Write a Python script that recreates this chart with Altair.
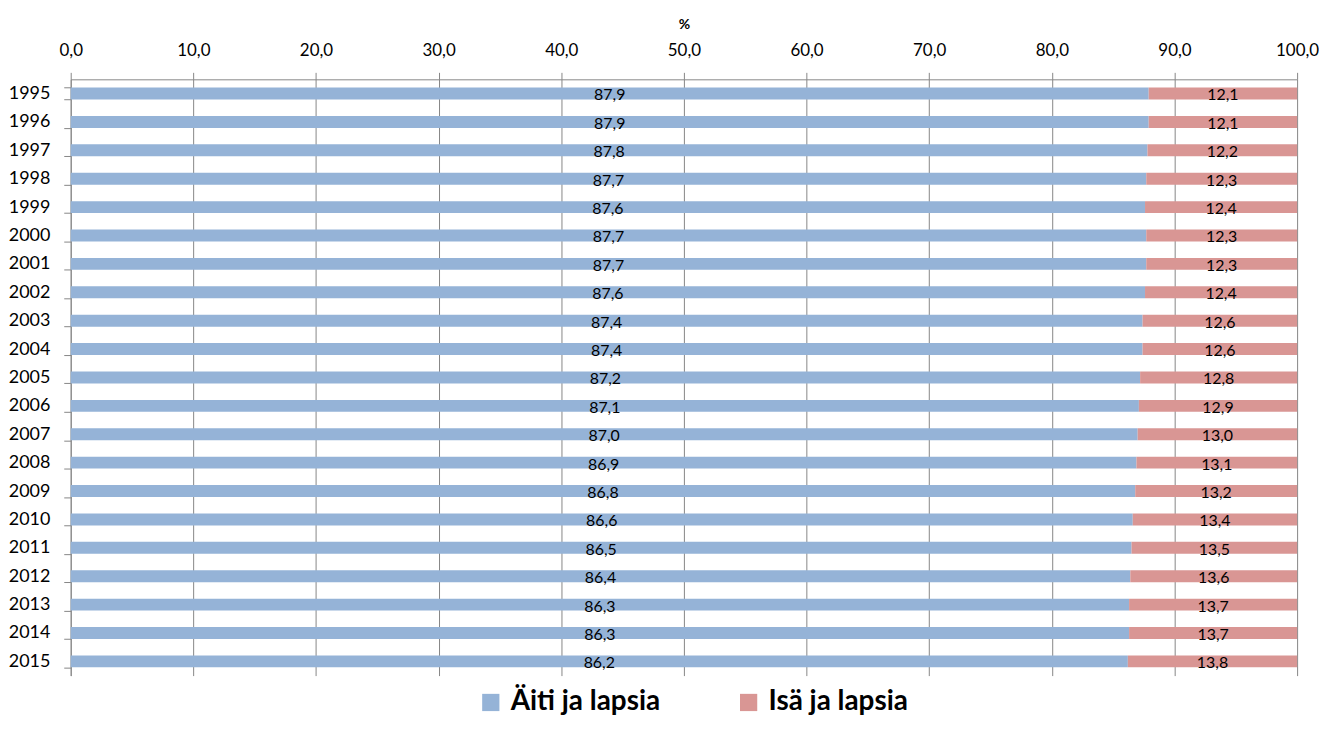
import altair as alt
import pandas as pd

years = [str(y) for y in range(1995, 2016)]
aiti = [87.9, 87.9, 87.8, 87.7, 87.6, 87.7, 87.7, 87.6, 87.4, 87.4, 87.2,
        87.1, 87.0, 86.9, 86.8, 86.6, 86.5, 86.4, 86.3, 86.3, 86.2]
isa = [12.1, 12.1, 12.2, 12.3, 12.4, 12.3, 12.3, 12.4, 12.6, 12.6, 12.8,
       12.9, 13.0, 13.1, 13.2, 13.4, 13.5, 13.6, 13.7, 13.7, 13.8]
series = ["Äiti ja lapsia", "Isä ja lapsia"]
colors = ["#95B3D7", "#D99694"]

rows = []
for i, y in enumerate(years):
    rows.append({"year": y, "series": series[0], "value": aiti[i], "ord": 0})
    rows.append({"year": y, "series": series[1], "value": isa[i], "ord": 1})
df = pd.DataFrame(rows)

FONT = "Lato"

base = alt.Chart(df).transform_stack(
    stack="value", groupby=["year"], as_=["v0", "v1"],
    sort=[alt.SortField("ord", order="ascending")]
).transform_calculate(
    mid="(datum.v0 + datum.v1) / 2",
    label="replace(format(datum.value, '.1f'), '.', ',')"
)

yenc = alt.Y("year:N", sort=years, title=None,
             scale=alt.Scale(paddingInner=0.58, paddingOuter=0.29),
             axis=alt.Axis(labelFontSize=18, labelFont=FONT, labelColor="#000000",
                           tickBand="extent", tickSize=7, tickColor="#868686",
                           domainColor="#868686", labelPadding=14, grid=False))

bars = base.mark_bar().encode(
    x=alt.X("v0:Q", scale=alt.Scale(domain=[0, 100], nice=False),
            title="%",
            axis=alt.Axis(orient="top", values=list(range(0, 101, 10)),
                          labelExpr="replace(format(datum.value, '.1f'), '.', ',')",
                          labelFontSize=17, labelFont=FONT, labelColor="#000000",
                          tickSize=7, tickColor="#868686", domainColor="#868686",
                          gridColor="#868686", gridOpacity=1, labelPadding=13,
                          titleFontSize=14, titleFont=FONT, titleFontWeight="bold",
                          titlePadding=10, labelFlush=False)),
    x2="v1:Q",
    y=yenc,
    color=alt.Color("series:N", scale=alt.Scale(domain=series, range=colors),
                    title=None,
                    legend=alt.Legend(orient="none", legendX=408, legendY=612,
                                      direction="horizontal",
                                      symbolType="square", symbolSize=300,
                                      symbolStrokeWidth=0, labelFontSize=28,
                                      labelFont=FONT, labelFontWeight="bold",
                                      labelColor="#000000", columnPadding=74,
                                      labelOffset=6)),
)

texts = base.mark_text(fontSize=16, font=FONT, color="#000000", dy=2).encode(
    x="mid:Q",
    y=alt.Y("year:N", sort=years),
    text="label:N",
)

chart = (bars + texts).properties(
    width=1232, height=599,
    autosize=alt.AutoSizeParams(type="none"),
    padding={"left": 63, "top": 70, "right": 22, "bottom": 52}
).configure_view(stroke=None).configure_axis(domainWidth=1)

chart.save("out.html", embed_options={"renderer": "svg", "actions": False})
